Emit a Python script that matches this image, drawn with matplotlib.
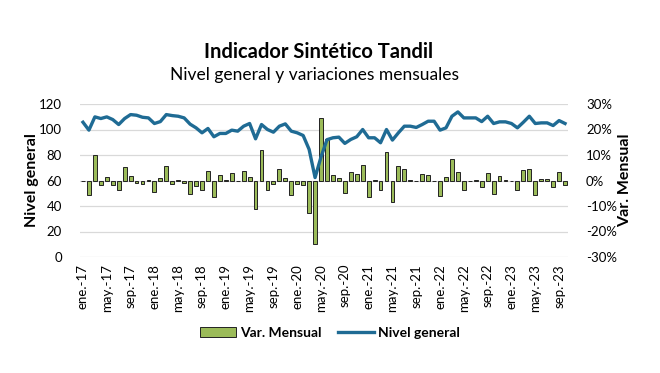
import numpy as np
import matplotlib
matplotlib.use('Agg')
import matplotlib.pyplot as plt
from matplotlib.ticker import FuncFormatter
from matplotlib.patches import Patch
from matplotlib.lines import Line2D

plt.rcParams['font.family'] = ['Lato', 'DejaVu Sans']

# datos: nivel general (indice) y variacion mensual (%)
nivel = [105.7, 99.5, 109.9, 108.6, 109.9, 107.8, 103.9, 108.6, 111.7, 111.2,
         109.6, 109.1, 104.7, 106.2, 111.7, 110.9, 110.4, 109.1, 104.2, 101.3,
         97.4, 100.8, 94.3, 96.9, 96.9, 99.5, 98.7, 102.6, 104.7, 92.7,
         103.9, 100.0, 97.9, 102.6, 104.4, 98.7, 97.4, 95.3, 84.4, 62.3,
         78.5, 92.0, 93.5, 94.0, 89.1, 92.2, 94.3, 100.0, 93.5, 93.5,
         89.6, 100.0, 91.7, 97.4, 102.6, 102.6, 101.6, 103.9, 106.5, 106.5,
         99.5, 101.3, 110.4, 113.8, 109.1, 109.1, 109.1, 106.2, 110.4, 104.7,
         106.0, 106.0, 104.7, 101.3, 105.7, 110.4, 104.7, 105.2, 105.2, 103.1,
         107.0, 104.7]
var_mensual = [-0.2, -5.6, 10.1, -1.7, 1.4, -1.7, -3.6, 5.3, 1.8, -0.9,
               -1.3, 0.3, -4.4, 1.0, 5.7, -1.2, 0.2, -0.9, -5.2, -2.0,
               -3.9, 3.9, -6.4, 2.1, 0.2, 3.0, -0.2, 3.9, 1.4, -11.3,
               12.0, -3.6, -1.2, 4.5, 1.0, -5.8, -1.2, -1.6, -12.6, -24.9,
               24.4, 16.2, 2.1, 1.0, -4.8, 3.4, 2.7, 6.1, -6.4, 0.2,
               -3.9, 11.2, -8.3, 5.7, 4.5, 0.1, -0.3, 2.5, 2.1, -0.3,
               -6.0, 1.4, 8.4, 3.5, -3.9, -0.2, 0.2, -2.7, 3.1, -5.2,
               1.8, 0.1, -0.2, -3.9, 4.2, 4.5, -5.6, 0.6, 0.6, -2.5,
               3.5, -1.7]
meses = ['ene', 'feb', 'mar', 'abr', 'may', 'jun', 'jul', 'ago', 'sep', 'oct', 'nov', 'dic']
anio_inicio = 2017

n = len(nivel)
fechas = [f"{meses[i % 12]}.-{(anio_inicio + i // 12) % 100:02d}" for i in range(n)]
x = np.arange(n)

color_barra = '#9BBB59'
color_linea = '#1F6B94'
color_grid = '#D9D9D9'

fig = plt.figure(figsize=(6.6, 3.73), dpi=100)
ax = fig.add_axes([80/660, 1-257/373, 488/660, 153/373])
ax2 = ax.twinx()

# barras en eje secundario
ax2.bar(x, var_mensual, width=0.65, color=color_barra, edgecolor='#222222', linewidth=0.7, zorder=2)
ax2.set_ylim(-30, 30)
ax2.set_yticks(np.arange(-30, 31, 10))
ax2.yaxis.set_major_formatter(FuncFormatter(lambda v, p: f"{v:.0f}%"))

# linea en eje principal, por encima de las barras
ax.set_zorder(ax2.get_zorder() + 1)
ax.patch.set_visible(False)
ax.plot(x, nivel, color=color_linea, linewidth=2.4, zorder=3, solid_joinstyle='round')
ax.set_ylim(0, 120)
ax.set_yticks(np.arange(0, 121, 20))
ax.set_xlim(-0.5, n - 0.5)
ax.set_xticks(x[::4])
ax.set_xticklabels(fechas[::4], rotation=90)

# grilla
for v in np.arange(0, 121, 20):
    ax2.axhline(v / 2 - 30, color=color_grid, linewidth=0.9, zorder=0)

for a in (ax, ax2):
    for s in a.spines.values():
        s.set_visible(False)
    a.tick_params(length=0, labelsize=9.5, colors='#000000')
ax.tick_params(axis='y', pad=13)
ax2.tick_params(axis='y', pad=13)
ax.tick_params(axis='x', pad=5)

ax.set_ylabel('Nivel general', fontsize=11.5, fontweight='bold', labelpad=0)
ax2.set_ylabel('Var. Mensual', fontsize=11.5, fontweight='bold', labelpad=1)

fig.text(0.483, 1-52/373, 'Indicador Sintético Tandil', ha='center', va='center',
         fontsize=14.5, fontweight='bold')
fig.text(0.477, 1-75/373, 'Nivel general y variaciones mensuales', ha='center', va='center',
         fontsize=12.5)

handles = [Patch(facecolor=color_barra, edgecolor='#222222', linewidth=0.7),
           Line2D([0], [0], color=color_linea, linewidth=2.4)]
leg = fig.legend(handles, ['Var. Mensual', 'Nivel general'], loc='center',
                 bbox_to_anchor=(0.5, 1-333/373), ncol=2, frameon=False,
                 prop={'size': 10, 'weight': 'bold'}, handlelength=2.6,
                 handletextpad=0.3, columnspacing=1.2)

fig.savefig('out.png', dpi=100)
